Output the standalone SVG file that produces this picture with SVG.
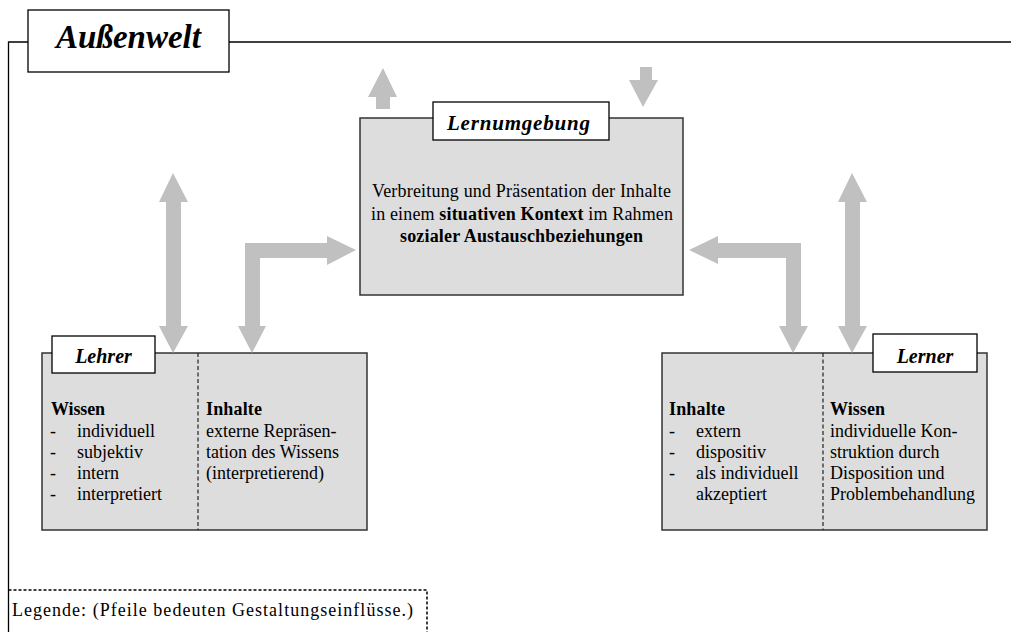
<svg xmlns="http://www.w3.org/2000/svg" width="1011" height="632" viewBox="0 0 1011 632">
  <style>
    .frame { fill: none; stroke: #000; stroke-width: 1.3; }
    .box { fill: #dddddd; stroke: #333; stroke-width: 1.5; }
    .label { fill: #fff; stroke: #000; stroke-width: 1.3; }
    .divider { stroke: #222; stroke-width: 1.2; stroke-dasharray: 4 2.5; }
    .arrow { fill: #c0c0c0; stroke: none; }
    .title { font-family: "Liberation Serif", serif; font-weight: bold; font-style: italic; fill: #000; }
    .txt { font-family: "Liberation Serif", serif; font-size: 18px; fill: #000; }
    .b { font-weight: bold; }
  </style>

  <!-- outer world frame -->
  <g id="aussenwelt">
    <polyline class="frame" points="1011,42 229,42"/>
    <polyline class="frame" points="28,42 8.5,42 8.5,632"/>
    <rect class="label" x="28" y="10" width="201" height="62"/>
    <text class="title" x="128.5" y="48" font-size="33" text-anchor="middle">Außenwelt</text>
  </g>

  <!-- learning environment -->
  <g id="lernumgebung">
    <rect class="box" x="360" y="118" width="323" height="177"/>
    <rect class="label" x="433" y="102" width="176" height="38"/>
    <text class="title" x="447" y="130" font-size="21" textLength="143" lengthAdjust="spacing">Lernumgebung</text>
    <text class="txt" x="372" y="197" textLength="299" lengthAdjust="spacing">Verbreitung und Präsentation der Inhalte</text>
    <text class="txt" x="371" y="220" textLength="302" lengthAdjust="spacing">in einem <tspan class="b">situativen Kontext</tspan> im Rahmen</text>
    <text class="txt b" x="400" y="242" textLength="243" lengthAdjust="spacing">sozialer Austauschbeziehungen</text>
  </g>

  <!-- teacher -->
  <g id="lehrer">
    <rect class="box" x="42" y="353" width="325" height="177"/>
    <line class="divider" x1="198" y1="353" x2="198" y2="530"/>
    <rect class="label" x="52" y="336" width="103" height="37"/>
    <text class="title" x="103.5" y="363" font-size="20" text-anchor="middle">Lehrer</text>
    <text class="txt b" x="51" y="415" textLength="54" lengthAdjust="spacing">Wissen</text>
    <text class="txt" x="50" y="437">-</text><text class="txt" x="77" y="437">individuell</text>
    <text class="txt" x="50" y="458">-</text><text class="txt" x="77" y="458">subjektiv</text>
    <text class="txt" x="50" y="479">-</text><text class="txt" x="77" y="479">intern</text>
    <text class="txt" x="50" y="500">-</text><text class="txt" x="77" y="500">interpretiert</text>
    <text class="txt b" x="206" y="415" textLength="56" lengthAdjust="spacing">Inhalte</text>
    <text class="txt" x="206" y="437">externe Repräsen-</text>
    <text class="txt" x="206" y="458">tation des Wissens</text>
    <text class="txt" x="206" y="479">(interpretierend)</text>
  </g>

  <!-- learner -->
  <g id="lerner">
    <rect class="box" x="662" y="353" width="325" height="177"/>
    <line class="divider" x1="823" y1="353" x2="823" y2="530"/>
    <rect class="label" x="873" y="334" width="104" height="38"/>
    <text class="title" x="925" y="363" font-size="20" text-anchor="middle">Lerner</text>
    <text class="txt b" x="669" y="415" textLength="56" lengthAdjust="spacing">Inhalte</text>
    <text class="txt" x="669" y="437">-</text><text class="txt" x="696" y="437">extern</text>
    <text class="txt" x="669" y="458">-</text><text class="txt" x="696" y="458">dispositiv</text>
    <text class="txt" x="669" y="479">-</text><text class="txt" x="696" y="479">als individuell</text>
    <text class="txt" x="696" y="500">akzeptiert</text>
    <text class="txt b" x="830" y="415" textLength="55" lengthAdjust="spacing">Wissen</text>
    <text class="txt" x="830" y="437">individuelle Kon-</text>
    <text class="txt" x="830" y="458">struktion durch</text>
    <text class="txt" x="830" y="479">Disposition und</text>
    <text class="txt" x="830" y="500">Problembehandlung</text>
  </g>

  <!-- legend -->
  <g id="legende">
    <polyline points="8.5,590 427,590 427,632" fill="none" stroke="#000" stroke-width="1.5" stroke-dasharray="3 2"/>
    <text class="txt" x="12" y="616" textLength="401" lengthAdjust="spacing">Legende: (Pfeile bedeuten Gestaltungseinflüsse.)</text>
  </g>

  <!-- influence arrows -->
  <g id="connectors">
    <!-- outward from learning environment -->
    <polygon class="arrow" points="383,68 397,97 390,97 390,109 376,109 376,97 368,97"/>
    <!-- inward into learning environment -->
    <polygon class="arrow" points="640,67 652,67 652,80 658,80 643,107 629,80 640,80"/>
    <!-- teacher <-> outer world -->
    <polygon class="arrow" points="173,173 188,202 181,202 181,326 188,326 173,353 159,326 166,326 166,202 159,202"/>
    <!-- teacher <-> learning environment -->
    <polygon class="arrow" points="245,326 245,243 327,243 327,236 356,250 327,265 327,258 260,258 260,326 266,326 252,353 238,326"/>
    <!-- learning environment <-> learner -->
    <polygon class="arrow" points="689,250 718,236 718,243 801,243 801,326 808,326 793,353 779,326 786,326 786,258 718,258 718,264"/>
    <!-- learner <-> outer world -->
    <polygon class="arrow" points="852,173 867,202 860,202 860,326 867,326 852,353 838,326 845,326 845,202 838,202"/>
  </g>
</svg>
